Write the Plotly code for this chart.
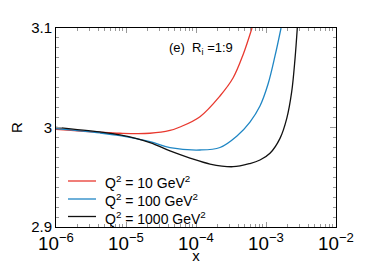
import plotly.graph_objects as go

# Q^2 = 10 GeV^2
x_q10 = [1e-6, 4.25e-6, 8.2e-6, 2.2e-5, 4.25e-5, 5.9e-5, 1.14e-4, 2.2e-4, 3.38e-4, 4.69e-4, 6.31e-4]
r_q10 = [2.9982, 2.9952, 2.9942, 2.9942, 2.9970, 3.0005, 3.0109, 3.0317, 3.0497, 3.0729, 3.1]

# Q^2 = 100 GeV^2
x_q100 = [1e-6, 4.25e-6, 8.2e-6, 2.2e-5, 4.25e-5, 1.14e-4, 2.2e-4, 3.85e-4, 5.9e-4, 8.2e-4, 1.07e-3, 1.345e-3, 1.64e-3]
r_q100 = [2.9988, 2.9945, 2.9918, 2.9857, 2.9797, 2.9774, 2.9799, 2.9915, 3.0055, 3.0216, 3.0437, 3.0719, 3.1]

# Q^2 = 1000 GeV^2
x_q1000 = [1e-6, 4.25e-6, 8.2e-6, 2.2e-5, 4.25e-5, 8.2e-5, 1.585e-4, 3.38e-4, 5.9e-4, 8.2e-4, 1.14e-3,
           1.585e-3, 1.98e-3, 2.33e-3, 2.6e-3, 2.8e-3]
r_q1000 = [3.0002, 2.9955, 2.9925, 2.9849, 2.9764, 2.9693, 2.9633, 2.9606, 2.9638, 2.9673, 2.9741,
           2.9891, 3.0092, 3.036, 3.0695, 3.1]

names = ["Q<sup>2</sup> = 10 GeV<sup>2</sup>", "Q<sup>2</sup> = 100 GeV<sup>2</sup>", "Q<sup>2</sup> = 1000 GeV<sup>2</sup>"]
colors = ["#e8392f", "#1f86c4", "#111111"]

FONT = "Liberation Sans, Arial, sans-serif"

fig = go.Figure()
for xs, ys, nm, c in zip([x_q10, x_q100, x_q1000], [r_q10, r_q100, r_q1000], names, colors):
    fig.add_trace(go.Scatter(x=xs, y=ys, mode="lines", name=nm, showlegend=False,
                             line=dict(color=c, width=1.3, shape="spline", smoothing=1.0,
                                       simplify=False)))

# page offset of the figure inside the browser (default body margin)
OFF = 8
# plot-area edges in screenshot pixels
L, R_, T, B = 56, 336, 28, 227
W, H = 374 - OFF, 264 - OFF
def px2paper_x(p): return (p - L) / (R_ - L)
def px2paper_y(p): return (B - p) / (B - T)
legend_rows = [181, 199, 216.5]
shapes, annots = [], []
for nm, c, yy in zip(names, colors, legend_rows):
    shapes.append(dict(type="line", xref="paper", yref="paper",
                       x0=px2paper_x(68), x1=px2paper_x(96), y0=px2paper_y(yy), y1=px2paper_y(yy),
                       line=dict(color=c, width=1.3)))
    annots.append(dict(x=px2paper_x(103), y=px2paper_y(yy + 1), xref="paper", yref="paper",
                       xanchor="left", yanchor="middle", text=nm, showarrow=False,
                       font=dict(size=14)))
annots.append(dict(x=px2paper_x(167), y=px2paper_y(48), xref="paper", yref="paper",
                   xanchor="left", yanchor="middle", text="(e)  R<sub>i</sub> =1:9",
                   showarrow=False, font=dict(size=13)))

fig.update_layout(
    width=W, height=H,
    margin=dict(l=L - OFF, r=W - (R_ - OFF), t=T - OFF, b=H - (B - OFF), autoexpand=False),
    paper_bgcolor="white", plot_bgcolor="white",
    font=dict(family=FONT, size=14, color="black"),
    shapes=shapes, annotations=annots,
)
fig.update_xaxes(
    type="log", range=[-6, -2], dtick=1, exponentformat="power", automargin=False,
    ticks="inside", ticklen=5, tickcolor="#999", showline=True, linecolor="black", linewidth=1,
    mirror="ticks", showgrid=False, zeroline=False,
    minor=dict(ticks="inside", ticklen=3, tickcolor="#999", showgrid=False),
    tickfont=dict(size=15), title=dict(text="x", font=dict(size=15), standoff=0),
)
fig.update_yaxes(
    range=[2.9, 3.1], dtick=0.1, tick0=2.9, automargin=False,
    ticks="inside", ticklen=6, tickcolor="#999", showline=True, linecolor="black", linewidth=1,
    mirror="ticks", showgrid=False, zeroline=False,
    minor=dict(ticks="inside", ticklen=3, dtick=0.01, tickcolor="#999", showgrid=False),
    tickfont=dict(size=15), title=dict(text="R", font=dict(size=15), standoff=10),
)

fig.write_html("out.html")
